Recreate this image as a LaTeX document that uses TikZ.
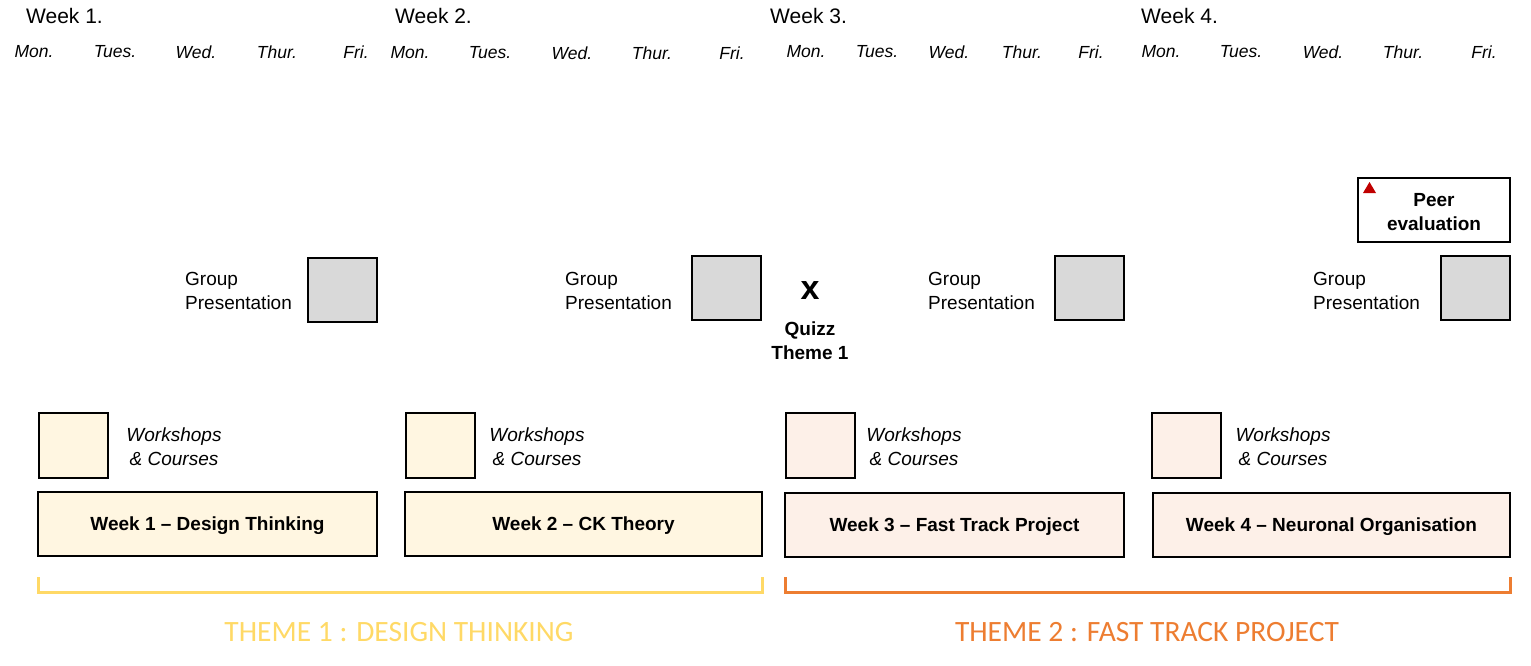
\documentclass[tikz,border=0pt]{standalone}
\usepackage{fontspec}
\setmainfont{Liberation Sans}
\newfontfamily\themefont{Carlito}
\definecolor{creamA}{HTML}{FFF6E1}
\definecolor{creamB}{HTML}{FDF0E8}
\definecolor{gpgray}{HTML}{D9D9D9}
\definecolor{themeyellow}{HTML}{FFD966}
\definecolor{themeorange}{HTML}{ED7D31}
\definecolor{peerred}{HTML}{C00000}
\begin{document}
\begin{tikzpicture}[x=1pt,y=-1pt,
  weektitle/.style={anchor=west,inner sep=0pt,font=\fontsize{21}{25}\selectfont},
  daylbl/.style={inner sep=0pt,font=\fontsize{17.5}{21}\selectfont\itshape},
  bx/.style={draw=black,line width=2pt,inner sep=0pt},
  gpbox/.style={bx,fill=gpgray,minimum width=69pt,minimum height=64pt},
  wsbox/.style={bx,minimum width=69pt,minimum height=65pt},
  weekbox/.style={bx,minimum height=64pt,text height=13.7pt,text depth=0pt,font=\fontsize{19}{23}\selectfont\bfseries},
  gplbl/.style={anchor=west,align=left,inner sep=0pt,font=\fontsize{19}{24}\selectfont},
  wslbl/.style={align=center,inner sep=0pt,font=\fontsize{19}{24}\selectfont\itshape},
  themelbl/.style={inner sep=0pt,font=\fontsize{29.5}{34}\selectfont\themefont},
  bracket/.style={line width=3pt}
]
\useasboundingbox (0,0) rectangle (1531,666);
% week titles
\node[weektitle] (wk1) at (26,16) {Week 1.};
\node[weektitle] (wk2) at (395,16) {Week 2.};
\node[weektitle] (wk3) at (770,16) {Week 3.};
\node[weektitle] (wk4) at (1141,16) {Week 4.};
% days
\node[daylbl] (d1a) at (34,52) {Mon.};
\node[daylbl] (d1b) at (115,52) {Tues.};
\node[daylbl] (d1c) at (196,52) {Wed.};
\node[daylbl] (d1d) at (277,52) {Thur.};
\node[daylbl] (d1e) at (356,52) {Fri.};
\node[daylbl] (d2a) at (410,53) {Mon.};
\node[daylbl] (d2b) at (490,53) {Tues.};
\node[daylbl] (d2c) at (572,53) {Wed.};
\node[daylbl] (d2d) at (652,53) {Thur.};
\node[daylbl] (d2e) at (732,53) {Fri.};
\node[daylbl] (d3a) at (806,52) {Mon.};
\node[daylbl] (d3b) at (877,52) {Tues.};
\node[daylbl] (d3c) at (949,52) {Wed.};
\node[daylbl] (d3d) at (1022,52) {Thur.};
\node[daylbl] (d3e) at (1091,52) {Fri.};
\node[daylbl] (d4a) at (1161,52) {Mon.};
\node[daylbl] (d4b) at (1241,52) {Tues.};
\node[daylbl] (d4c) at (1323,52) {Wed.};
\node[daylbl] (d4d) at (1403,52) {Thur.};
\node[daylbl] (d4e) at (1484,52) {Fri.};
% peer evaluation
\node[bx,minimum width=152pt,minimum height=64pt] (peer) at (1434,210) {};
\node[inner sep=0pt,align=center,font=\fontsize{19}{24}\selectfont\bfseries] (peert) at (1434,212) {Peer\\evaluation};
\fill[peerred] (1363,193) -- (1376,193) -- (1369.5,182) -- cycle;
% group presentations
\node[gpbox] (gp1) at (342,290) {};
\node[gpbox] (gp2) at (726.5,288) {};
\node[gpbox] (gp3) at (1089.5,288) {};
\node[gpbox] (gp4) at (1475,288) {};
\node[gplbl] (gpl1) at (185,291) {Group\\Presentation};
\node[gplbl] (gpl2) at (565,291) {Group\\Presentation};
\node[gplbl] (gpl3) at (928,291) {Group\\Presentation};
\node[gplbl] (gpl4) at (1313,291) {Group\\Presentation};
% quizz
\node[inner sep=0pt,font=\fontsize{34}{34}\selectfont\bfseries] (qx) at (810,291) {x};
\node[inner sep=0pt,align=center,font=\fontsize{19}{24}\selectfont\bfseries] (qz) at (810,341) {Quizz\\Theme 1};
% workshops
\node[wsbox,fill=creamA] (ws1) at (73.5,445.5) {};
\node[wsbox,fill=creamA] (ws2) at (440,445) {};
\node[wsbox,fill=creamB] (ws3) at (820,445.5) {};
\node[wsbox,fill=creamB] (ws4) at (1186.5,445.5) {};
\node[wslbl] (wsl1) at (174,447) {Workshops\\ \& Courses};
\node[wslbl] (wsl2) at (537,447) {Workshops\\ \& Courses};
\node[wslbl] (wsl3) at (914,447) {Workshops\\ \& Courses};
\node[wslbl] (wsl4) at (1283,447) {Workshops\\ \& Courses};
% week boxes
\node[weekbox,fill=creamA,minimum width=339pt] (wb1) at (207.5,524) {Week 1 -- Design Thinking};
\node[weekbox,fill=creamA,minimum width=357pt] (wb2) at (583.5,524) {Week 2 -- CK Theory};
\node[weekbox,fill=creamB,minimum width=339pt] (wb3) at (954.5,524.5) {Week 3 -- Fast Track Project};
\node[weekbox,fill=creamB,minimum width=357pt] (wb4) at (1331.5,524.5) {Week 4 -- Neuronal Organisation};
% brackets
\draw[bracket,themeyellow] (38,577) |- (762,592) -- (762,577);
\draw[bracket,themeorange] (785,577) |- (1510,592) -- (1510,577);
% theme labels
\node[themelbl,text=themeyellow] (th1) at (399,632) {THEME 1 : DESIGN THINKING};
\node[themelbl,text=themeorange] (th2) at (1147,632) {THEME 2 : FAST TRACK PROJECT};
\end{tikzpicture}
\end{document}
